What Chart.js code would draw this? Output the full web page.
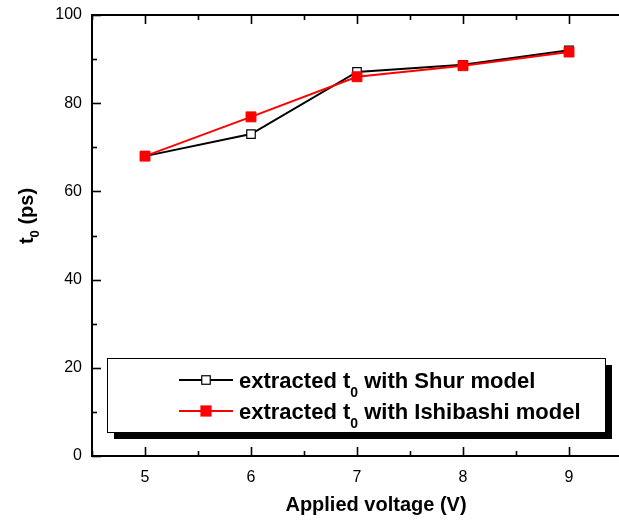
<!DOCTYPE html>
<html>
<head>
<meta charset="utf-8">
<script src="https://cdn.jsdelivr.net/npm/chart.js@4.4.1/dist/chart.umd.min.js"></script>
<style>
  html, body { margin: 0; padding: 0; background: #fff; overflow: hidden; }
  #wrap { width: 630px; height: 525px; }
</style>
</head>
<body>
<div id="wrap"><canvas id="c" width="630" height="525"></canvas></div>
<script>
// Applied voltage (V)
const voltages = [5, 6, 7, 8, 9];
// extracted t0 (ps)
const shurT0 = [68.0, 73.0, 87.1, 88.7, 92.0];
const ishibashiT0 = [68.0, 76.9, 86.0, 88.5, 91.6];

const xTicks = [5, 6, 7, 8, 9];
const yTicks = [0, 20, 40, 60, 80, 100];

const seriesNames = ['extracted t', ' with Shur model', ' with Ishibashi model'];
const xTitle = 'Applied voltage (V)';

const FONT = '"Liberation Sans", Arial, sans-serif';

// Inward major/minor ticks, top axis, axis titles and the boxed legend
const framePlugin = {
  id: 'frame',
  beforeDatasetsDraw(chart) {
    const { ctx, chartArea: a, scales: { x, y } } = chart;
    ctx.save();
    ctx.strokeStyle = '#000';
    ctx.lineWidth = 2;
    ctx.lineCap = 'butt';
    // top axis line
    ctx.beginPath();
    ctx.moveTo(a.left - 1, a.top);
    ctx.lineTo(a.right + 10, a.top);
    ctx.stroke();
    ctx.lineWidth = 1.6;
    // y ticks (left axis)
    for (let v = 0; v <= 100; v += 10) {
      const py = Math.round(y.getPixelForValue(v)) + 0.5;
      const len = v % 20 === 0 ? 9 : 5;
      ctx.beginPath();
      ctx.moveTo(a.left, py);
      ctx.lineTo(a.left + len, py);
      ctx.stroke();
    }
    // x ticks (bottom and top axes)
    for (let v = 4.5; v <= 9.5; v += 0.5) {
      const px = Math.round(x.getPixelForValue(v)) + 0.5;
      const len = Number.isInteger(v) ? 9 : 5;
      ctx.beginPath();
      ctx.moveTo(px, a.bottom);
      ctx.lineTo(px, a.bottom - len);
      ctx.moveTo(px, a.top);
      ctx.lineTo(px, a.top + len);
      ctx.stroke();
    }
    ctx.restore();
  },
  afterDraw(chart) {
    const { ctx } = chart;
    ctx.save();
    ctx.fillStyle = '#000';
    // x axis title
    ctx.font = 'bold 20px ' + FONT;
    ctx.textAlign = 'center';
    ctx.textBaseline = 'middle';
    ctx.fillText(xTitle, 376, 505);

    // y axis title with subscript, rotated
    ctx.save();
    ctx.translate(26, 216);
    ctx.rotate(-Math.PI / 2);
    ctx.textBaseline = 'alphabetic';
    ctx.textAlign = 'left';
    ctx.font = 'bold 20px ' + FONT;
    const tW = ctx.measureText('t').width;
    ctx.font = 'bold 13px ' + FONT;
    const sW = ctx.measureText('0').width;
    ctx.font = 'bold 20px ' + FONT;
    const restW = ctx.measureText(' (ps)').width;
    let sx = -(tW + sW + restW) / 2;
    ctx.fillText('t', sx, 7);
    ctx.font = 'bold 13px ' + FONT;
    ctx.fillText('0', sx + tW, 13);
    ctx.font = 'bold 20px ' + FONT;
    ctx.fillText(' (ps)', sx + tW + sW, 7);
    ctx.restore();

    // legend box with drop shadow
    const bx = 107, by = 358, bw = 498, bh = 74;
    ctx.fillStyle = '#000';
    ctx.fillRect(bx + 7, by + 7, bw, bh);
    ctx.fillStyle = '#fff';
    ctx.fillRect(bx, by, bw, bh);
    ctx.strokeStyle = '#000';
    ctx.lineWidth = 1;
    ctx.strokeRect(bx + 0.5, by + 0.5, bw, bh);

    const rows = [
      { y: 380, color: '#000', fill: '#fff', text: seriesNames[1], side: 8.5 },
      { y: 411, color: '#ff0000', fill: '#ff0000', text: seriesNames[2], side: 10 }
    ];
    rows.forEach(r => {
      ctx.strokeStyle = r.color;
      ctx.lineWidth = 2;
      ctx.beginPath();
      ctx.moveTo(179, r.y);
      ctx.lineTo(233, r.y);
      ctx.stroke();
      ctx.fillStyle = r.fill;
      ctx.fillRect(206 - r.side / 2, r.y - r.side / 2, r.side, r.side);
      ctx.lineWidth = 1.2;
      ctx.strokeRect(206 - r.side / 2, r.y - r.side / 2, r.side, r.side);

      ctx.fillStyle = '#000';
      ctx.textAlign = 'left';
      ctx.textBaseline = 'alphabetic';
      ctx.font = 'bold 22px ' + FONT;
      let tx = 239;
      ctx.fillText(seriesNames[0], tx, r.y + 8);
      tx += ctx.measureText(seriesNames[0]).width;
      ctx.font = 'bold 14px ' + FONT;
      ctx.fillText('0', tx, r.y + 17);
      tx += ctx.measureText('0').width;
      ctx.font = 'bold 22px ' + FONT;
      ctx.fillText(r.text, tx, r.y + 8);
    });
    ctx.restore();
  }
};

new Chart(document.getElementById('c'), {
  type: 'line',
  data: {
    labels: voltages,
    datasets: [
      {
        label: 'Shur',
        data: voltages.map((v, i) => ({ x: v, y: shurT0[i] })),
        borderColor: '#000',
        backgroundColor: '#fff',
        borderWidth: 2,
        pointStyle: 'rect',
        pointRadius: 6,
        pointBorderWidth: 1.2,
        pointBorderColor: '#000',
        pointBackgroundColor: '#fff',
        order: 2
      },
      {
        label: 'Ishibashi',
        data: voltages.map((v, i) => ({ x: v, y: ishibashiT0[i] })),
        borderColor: '#ff0000',
        backgroundColor: '#ff0000',
        borderWidth: 2,
        pointStyle: 'rect',
        pointRadius: 7,
        pointBorderWidth: 1,
        pointBorderColor: '#ff0000',
        pointBackgroundColor: '#ff0000',
        order: 1
      }
    ]
  },
  options: {
    responsive: false,
    animation: false,
    events: [],
    layout: { padding: { left: 0, top: 15, right: 8, bottom: 0 } },
    plugins: { legend: { display: false }, tooltip: { enabled: false } },
    scales: {
      x: {
        type: 'linear',
        min: 4.5,
        max: 9.5,
        afterBuildTicks: s => { s.ticks = xTicks.map(v => ({ value: v })); },
        afterFit: s => { s.height = 69; s.paddingLeft = 0; s.paddingRight = 0; },
        grid: { display: false, drawTicks: false },
        border: { display: true, color: '#000', width: 2 },
        ticks: { color: '#000', font: { family: FONT, size: 16 }, padding: 12 }
      },
      y: {
        min: 0,
        max: 100,
        afterBuildTicks: s => { s.ticks = yTicks.map(v => ({ value: v })); },
        afterFit: s => { s.width = 92; s.paddingTop = 0; s.paddingBottom = 0; },
        grid: { display: false, drawTicks: false },
        border: { display: true, color: '#000', width: 2 },
        ticks: { color: '#000', font: { family: FONT, size: 16 }, padding: 10 }
      }
    }
  },
  plugins: [framePlugin]
});
</script>
</body>
</html>
